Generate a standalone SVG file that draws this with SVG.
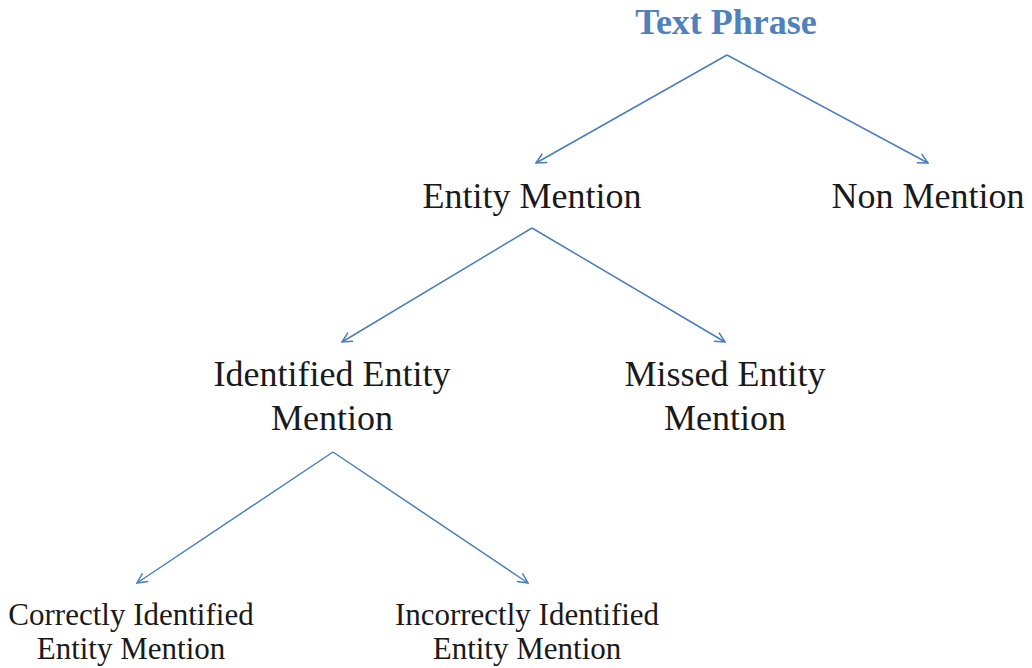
<svg xmlns="http://www.w3.org/2000/svg" width="1032" height="668" viewBox="0 0 1032 668">
  <style>
    .lbl { font-family: "Liberation Serif", "Times New Roman", serif; font-size: 36px; fill: #1a1a1a; text-anchor: middle; }
    .sm { font-size: 31px; }
    .title { font-family: "Liberation Serif", "Times New Roman", serif; font-size: 36px; font-weight: bold; fill: #4F81BD; text-anchor: middle; }
    .edge { stroke: #4A7EBB; stroke-width: 1.5; fill: none; marker-end: url(#arr); }
  </style>
  <defs>
    <marker id="arr" viewBox="0 0 12 12" refX="11" refY="6" markerWidth="12" markerHeight="12" markerUnits="userSpaceOnUse" orient="auto">
      <path d="M1,1 L11,6 L1,11" fill="none" stroke="#4A7EBB" stroke-width="1.5"/>
    </marker>
  </defs>
  <rect width="1032" height="668" fill="#ffffff"/>
  <g id="connectors">
    <line class="edge" x1="727" y1="55" x2="536" y2="163"/>
    <line class="edge" x1="727" y1="55" x2="928" y2="163"/>
    <line class="edge" x1="532" y1="228" x2="342" y2="342"/>
    <line class="edge" x1="532" y1="228" x2="725" y2="342"/>
    <line class="edge" x1="333" y1="452" x2="137" y2="583"/>
    <line class="edge" x1="333" y1="452" x2="528" y2="583"/>
  </g>
  <g id="text-phrase"><text class="title" x="726" y="34">Text Phrase</text></g>
  <g id="entity-mention"><text class="lbl" x="532" y="208">Entity Mention</text></g>
  <g id="non-mention"><text class="lbl" x="928" y="208">Non Mention</text></g>
  <g id="identified-entity-mention">
    <text class="lbl" x="332" y="386">Identified Entity</text>
    <text class="lbl" x="332" y="430">Mention</text>
  </g>
  <g id="missed-entity-mention">
    <text class="lbl" x="725" y="386">Missed Entity</text>
    <text class="lbl" x="725" y="430">Mention</text>
  </g>
  <g id="correctly-identified">
    <text class="lbl sm" x="131" y="625">Correctly Identified</text>
    <text class="lbl sm" x="131" y="659">Entity Mention</text>
  </g>
  <g id="incorrectly-identified">
    <text class="lbl sm" x="527" y="625">Incorrectly Identified</text>
    <text class="lbl sm" x="527" y="659">Entity Mention</text>
  </g>
</svg>
